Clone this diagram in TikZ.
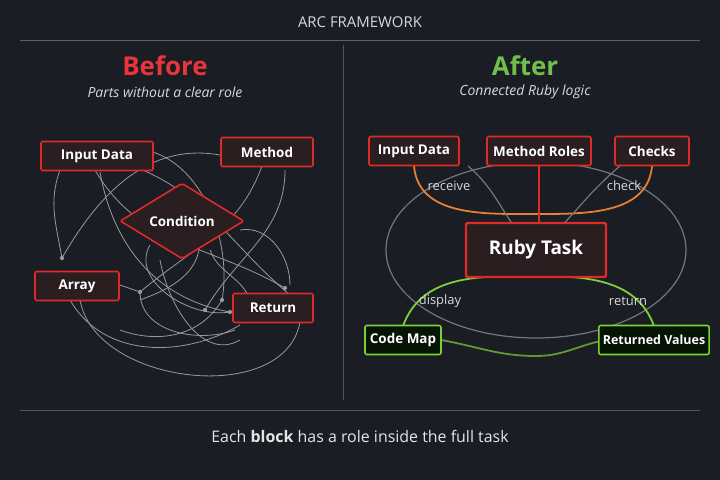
\documentclass[tikz,border=0pt]{standalone}
\usepackage{fontspec}
\setmainfont{Open Sans}
\usetikzlibrary{shapes.geometric,positioning,calc}
\definecolor{bgdark}{HTML}{1A1D23}
\definecolor{boxfill}{HTML}{2A1E20}
\definecolor{redline}{HTML}{E02A2A}
\definecolor{greenline}{HTML}{7ED038}
\definecolor{orangeline}{HTML}{E0A040}
\definecolor{wirecol}{HTML}{9A9A9A}
\definecolor{beforered}{HTML}{E8343A}
\definecolor{aftergreen}{HTML}{6FBF4A}
\tikzset{
  redbox/.style={draw=redline, line width=1.6pt, fill=boxfill, rounded corners=2pt, minimum height=29bp, text=white, font=\bfseries\fontsize{13.5}{16}\selectfont, inner xsep=4bp},
  greenbox/.style={redbox, draw=greenline, fill=boxfill!70!green!20!black},
  wire/.style={wirecol, line width=0.8pt},
  dot/.style={circle, fill=wirecol, inner sep=1.5pt},
  tag/.style={text=white!85!black, font=\fontsize{13}{15}\selectfont}
}
\begin{document}
\begin{tikzpicture}[x=1bp, y=-1bp]
  \fill[bgdark] (0,0) rectangle (720,480);
  \useasboundingbox (0,0) rectangle (720,480);

  % headings
  \node (title) at (360,22) [text=white!85!black, font=\fontsize{15}{18}\selectfont] {ARC FRAMEWORK};
  \draw[white!30!bgdark] (20,40) -- (700,40);
  \draw[white!25!bgdark, line width=1pt] (343,45) -- (343,400);
  \draw[white!25!bgdark, line width=1pt] (20,410) -- (700,410);
  \node (before) at (165,66) [text=beforered, font=\bfseries\fontsize{26}{30}\selectfont] {Before};
  \node (beforesub) at (165,92) [text=white!85!black, font=\itshape\fontsize{14}{16}\selectfont] {Parts without a clear role};
  \node (after) at (525,66) [text=aftergreen, font=\bfseries\fontsize{26}{30}\selectfont] {After};
  \node (aftersub) at (525,92) [text=white!85!black, font=\itshape\fontsize{14}{16}\selectfont] {Connected Ruby logic};
  \node (footer) at (360,436) [text=white!90!black, font=\fontsize{16}{19}\selectfont] {Each \textbf{block} has a role inside the full task};

  % before: tangled wires
  \coordinate (w1) at (62,258);  \coordinate (w2) at (140,292);
  \coordinate (w3) at (205,310); \coordinate (w4) at (222,300);
  \coordinate (w5) at (230,312); \coordinate (w6) at (285,288);
  \draw[wire] (60,170) to[out=-110,in=100] (w1);
  \draw[wire] (95,170) to[out=-60,in=150] (w6);
  \draw[wire] (120,150) to[out=10,in=80] (w4);
  \draw[wire] (130,165) to[out=-20,in=140] (290,295);
  \draw[wire] (100,172) to[out=-80,in=170] (w5);
  \draw[wire] (220,155) to[out=170,in=60] (w1);
  \draw[wire] (262,166) to[out=-110,in=40] (w2);
  \draw[wire] (285,170) to[out=-90,in=60] (w3);
  \draw[wire] (240,230) to[out=10,in=90] (290,285);
  \draw[wire] (70,300) to[out=-60,in=-150] (240,325);
  \draw[wire] (80,300) to[out=-80,in=-100] (300,322);
  \draw[wire] (w2) to[out=-90,in=-160] (235,330);
  \draw[wire] (150,245) to[out=-120,in=-170] (w5);
  \draw[wire] (200,240) to[out=-90,in=20] (140,300);
  \draw[wire] (160,260) to[out=-80,in=-150] (240,340);
  \draw[wire] (w2) -- (120,285);
  \draw[wire] (210,250) to[out=-70,in=110] (250,300);
  \draw[wire] (120,330) to[out=-20,in=-120] (w4);
  \foreach \p in {w1,w2,w3,w4,w5,w6}
    \node[dot] at (\p) {};

  % before: nodes
  \node (inL) at (97,156) [redbox, minimum width=112bp] {Input Data};
  \node (methodL) at (267,152) [redbox, minimum width=92bp] {Method};
  \node (condL) at (182,221) [redbox, diamond, inner sep=0bp, minimum width=124bp, minimum height=64bp] {Condition};
  \node (arrL) at (77,286) [redbox, minimum width=84bp] {Array};
  \node (retL) at (273,308) [redbox, minimum width=80bp] {Return};

  % after: arcs
  \coordinate (core) at (536,250);
  \draw[white!40!bgdark, line width=1.2pt] (core) ellipse (150 and 88);
  \draw[orangeline!80!red, line width=1.8pt] (414,166) to[out=-85,in=180] (536,214) to[out=0,in=-95] (652,166);
  \draw[redline, line width=1.6pt] (539,166) -- (539,225);
  \draw[greenline, line width=1.8pt] (403,326) to[out=70,in=180] (536,276) to[out=0,in=110] (654,326);
  \draw[greenline!70!bgdark, line width=1.8pt] (441,340) to[out=-10,in=180] (536,356) to[out=0,in=-170] (606,340);
  \draw[white!40!bgdark, line width=1.2pt] (468,166) to[out=-40,in=140] (core);
  \draw[white!40!bgdark, line width=1.2pt] (620,166) to[out=-140,in=40] (core);

  % after: nodes
  \node (inR) at (414,151) [redbox, minimum width=90bp] {Input Data};
  \node (roleR) at (539,151) [redbox, minimum width=104bp] {Method Roles};
  \node (chkR) at (652,151) [redbox, minimum width=74bp] {Checks};
  \node (task) at (core) [redbox, line width=2.4pt, minimum width=140bp, minimum height=54bp, font=\bfseries\fontsize{19}{22}\selectfont] {Ruby Task};
  \node (mapR) at (403,340) [greenbox, minimum width=76bp] {Code Map};
  \node (valR) at (654,340) [greenbox, minimum width=96bp, font=\bfseries\fontsize{12.5}{15}\selectfont] {Returned Values};
  \node (lrec) at (449,186) [tag] {receive};
  \node (lchk) at (624,186) [tag] {check};
  \node (ldis) at (440,301) [tag] {display};
  \node (lret) at (628,301) [tag] {return};
\end{tikzpicture}
\end{document}
